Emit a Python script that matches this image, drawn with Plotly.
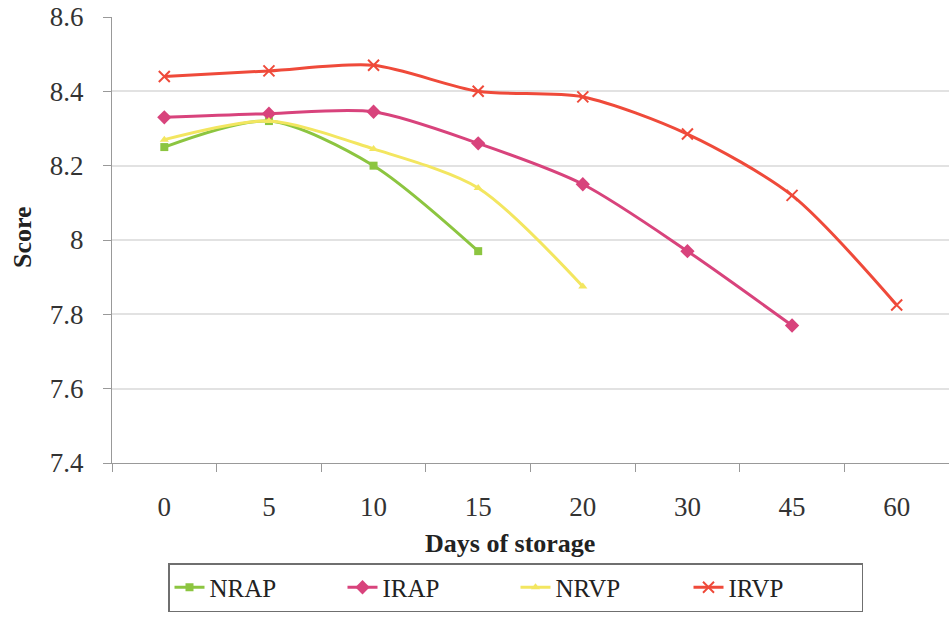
import plotly.graph_objects as go

# Sensory score during storage for four treatments
days = ["0", "5", "10", "15", "20", "30", "45", "60"]

nrap = [8.25, 8.32, 8.20, 7.97]
irap = [8.33, 8.34, 8.345, 8.26, 8.15, 7.97, 7.77]
nrvp = [8.27, 8.32, 8.245, 8.14, 7.875]
irvp = [8.44, 8.455, 8.47, 8.40, 8.385, 8.285, 8.12, 7.825]

y_ticks = [7.4, 7.6, 7.8, 8.0, 8.2, 8.4, 8.6]
y_labels = ["7.4", "7.6", "7.8", "8", "8.2", "8.4", "8.6"]

SERIF = "Liberation Serif, Times New Roman, serif"

series = [
    ("NRAP", nrap, "#8cc540", "square", 8),
    ("IRAP", irap, "#d8437c", "diamond", 11),
    ("NRVP", nrvp, "#f3e660", "triangle-up", 8),
    ("IRVP", irvp, "#ef4a3a", "x-thin", 11),
]

fig = go.Figure()
for name, vals, color, symbol, size in series:
    fig.add_trace(go.Scatter(
        x=days[:len(vals)],
        y=vals,
        name=name,
        mode="lines+markers",
        line=dict(color=color, width=3, shape="spline", smoothing=0.8),
        marker=dict(symbol=symbol, size=size, color=color,
                    line=dict(color=color, width=2 if symbol == "x-thin" else 0)),
    ))

fig.update_layout(
    width=949,
    height=617,
    margin=dict(l=112, r=0, t=17, b=154, autoexpand=False),
    paper_bgcolor="white",
    plot_bgcolor="white",
    font=dict(family=SERIF, color="#333333"),
    showlegend=True,
    legend=dict(
        orientation="h",
        x=(168 - 112) / 837,
        xanchor="left",
        y=(463 - 612) / 446,
        yanchor="bottom",
        bordercolor="#6f6f6f",
        borderwidth=1.5,
        bgcolor="white",
        font=dict(family=SERIF, size=25, color="#222222"),
        entrywidth=128,
        entrywidthmode="pixels",
        itemclick=False,
    ),
    xaxis=dict(
        type="category",
        categoryorder="array",
        categoryarray=days,
        range=[-0.5, 7.5],
        tickson="boundaries",
        ticks="outside",
        ticklen=8,
        tickcolor="#999999",
        showline=True,
        linecolor="#999999",
        linewidth=1,
        showgrid=False,
        tickfont=dict(family=SERIF, size=27, color="#333333"),
        ticklabelstandoff=20,
        zeroline=False,
    ),
    yaxis=dict(
        range=[7.4, 8.6],
        tickvals=y_ticks,
        ticktext=y_labels,
        ticks="outside",
        ticklen=8,
        tickcolor="#999999",
        showline=True,
        linecolor="#999999",
        linewidth=1,
        showgrid=True,
        gridcolor="#e2e2e2",
        gridwidth=1.5,
        tickfont=dict(family=SERIF, size=27, color="#333333"),
        ticklabelstandoff=14,
        zeroline=False,
    ),
    annotations=[
        dict(text="<b>Score</b>", textangle=-90, xref="paper", yref="paper",
             x=(22 - 112) / 837, y=(463 - 237) / 446, xanchor="center", yanchor="middle",
             showarrow=False, font=dict(family=SERIF, size=26, color="#222222")),
        dict(text="<b>Days of storage</b>", xref="paper", yref="paper",
             x=(510 - 112) / 837, y=(463 - 543) / 446, xanchor="center", yanchor="middle",
             showarrow=False, font=dict(family=SERIF, size=26, color="#222222")),
    ],
)

fig.write_html("out.html")
